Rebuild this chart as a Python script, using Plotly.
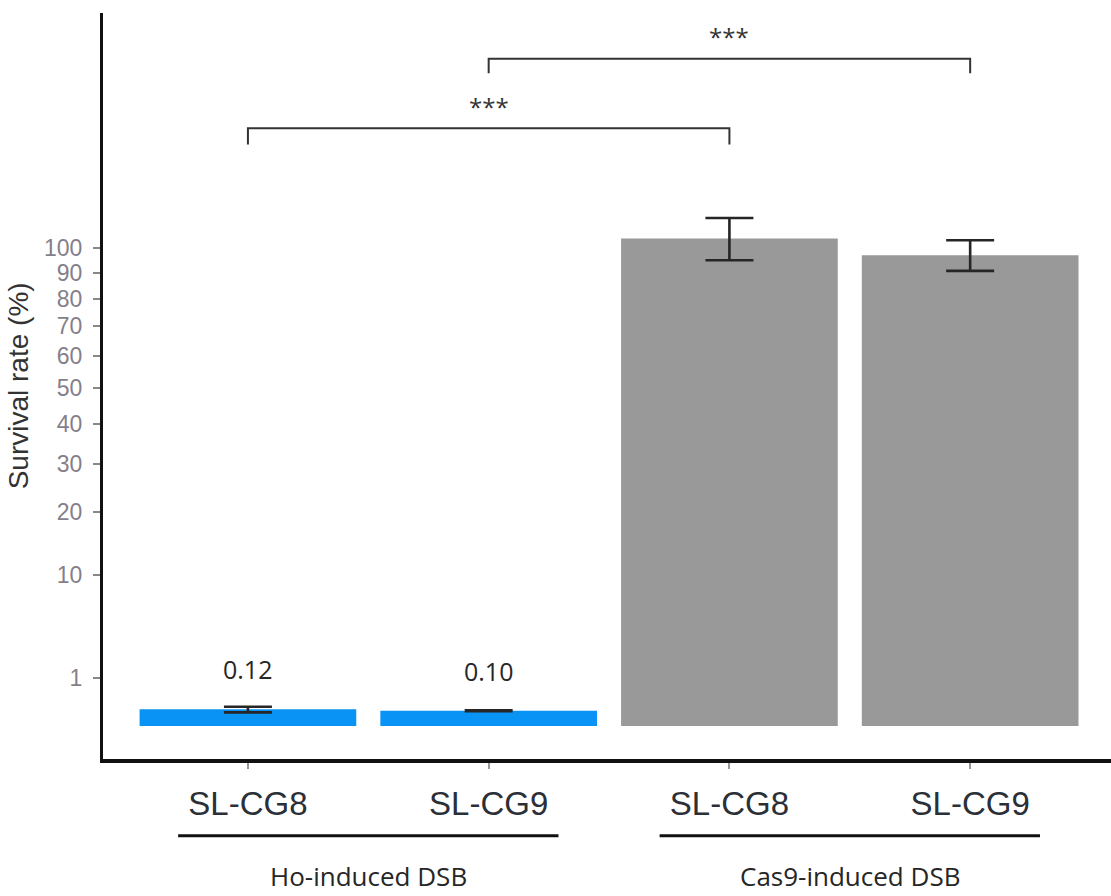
import numpy as np
import plotly.graph_objects as go

# ---- data ----
strains = ["SL-CG8", "SL-CG9", "SL-CG8", "SL-CG9"]
groups = ["Ho-induced DSB", "Cas9-induced DSB"]
group_members = [[0, 1], [2, 3]]
survival = [0.12, 0.10, 104.0, 97.0]
survival_sd = [0.04, 0.005, 9.0, 6.3]
value_labels = ["0.12", "0.10", "", ""]
bar_colors = ["#0994f5", "#0994f5", "#999999", "#999999"]
y_ticks = [1, 10, 20, 30, 40, 50, 60, 70, 80, 90, 100]
# (left index, right index, label, bracket level in %, bracket foot level in %)
comparisons = [(0, 2, "***", 156.5, 148.0), (1, 3, "***", 195.0, 186.5)]
y_range_pct = (-0.48, 222.6)  # signed, sqrt-scale limits

def sq(v):
    v = np.asarray(v, dtype=float)
    return np.sign(v) * np.sqrt(np.abs(v))

x = list(range(len(strains)))
s = sq(survival)
err_plus = sq(np.array(survival) + np.array(survival_sd)) - s
err_minus = s - sq(np.array(survival) - np.array(survival_sd))

fig = go.Figure()
fig.add_trace(go.Bar(
    x=x, y=s, width=0.9, marker=dict(color=bar_colors, line=dict(width=0)),
    error_y=dict(type="data", symmetric=False, array=err_plus, arrayminus=err_minus,
                 color="#262626", thickness=2.6, width=24),
    showlegend=False, hoverinfo="skip",
))

annotations = []
shapes = []
# value labels above small bars
for i, lab in enumerate(value_labels):
    if lab:
        annotations.append(dict(x=x[i], y=float(s[i]), xref="x", yref="y", text=lab,
                                showarrow=False, yanchor="middle", yshift=40,
                                font=dict(family="Open Sans", size=25, color="#262626")))
# significance brackets
for a, b, lab, lvl, foot in comparisons:
    ly, fy = float(sq(lvl)), float(sq(foot))
    shapes.append(dict(type="path", xref="x", yref="y",
                       path=f"M {x[a]},{fy} L {x[a]},{ly} L {x[b]},{ly} L {x[b]},{fy}",
                       line=dict(color="#333333", width=2)))
    annotations.append(dict(x=(x[a] + x[b]) / 2, y=ly, xref="x", yref="y", text=lab,
                            showarrow=False, yanchor="middle", yshift=22,
                            font=dict(family="Open Sans", size=24, color="#333333")))
# group underlines and labels
for g, members in zip(groups, group_members):
    c = (x[members[0]] + x[members[-1]]) / 2
    shapes.append(dict(type="line", xref="x", yref="paper", x0=c - 0.79, x1=c + 0.79,
                       y0=-0.103, y1=-0.103, line=dict(color="#111111", width=3)))
    annotations.append(dict(x=c, y=-0.157, xref="x", yref="paper", text=g, showarrow=False,
                            yanchor="middle", xanchor="center",
                            font=dict(family="Open Sans", size=26, color="#262626")))
# y-axis title
annotations.append(dict(x=-0.084, y=0.50, xref="paper", yref="paper", text="Survival rate (%)",
                        textangle=-90, showarrow=False, xanchor="center", yanchor="middle",
                        font=dict(family="Liberation Sans", size=28, color="#333333")))

fig.update_layout(
    width=1111, height=896,
    margin=dict(l=103, r=0, t=13, b=137),
    plot_bgcolor="white", paper_bgcolor="white",
    shapes=shapes, annotations=annotations,
    xaxis=dict(range=[-0.602, 3.585], tickmode="array", tickvals=x, ticktext=strains,
               showline=True, linecolor="#111111", linewidth=3.5, showgrid=False, zeroline=False,
               ticks="outside", ticklen=6, tickcolor="#999999", tickwidth=1.5,
               ticklabelstandoff=7,
               tickfont=dict(family="Liberation Sans", size=33, color="#2b2f38")),
    yaxis=dict(range=[float(sq(y_range_pct[0])), float(sq(y_range_pct[1]))],
               tickmode="array", tickvals=list(sq(y_ticks)), ticktext=[str(t) for t in y_ticks],
               showline=True, linecolor="#111111", linewidth=3, showgrid=False, zeroline=False,
               ticks="outside", ticklen=7, tickcolor="#888888", tickwidth=1.5,
               ticklabelstandoff=6,
               tickfont=dict(family="Liberation Sans", size=23, color="#857f8a")),
    bargap=0.1,
)

fig.write_html("out.html")
